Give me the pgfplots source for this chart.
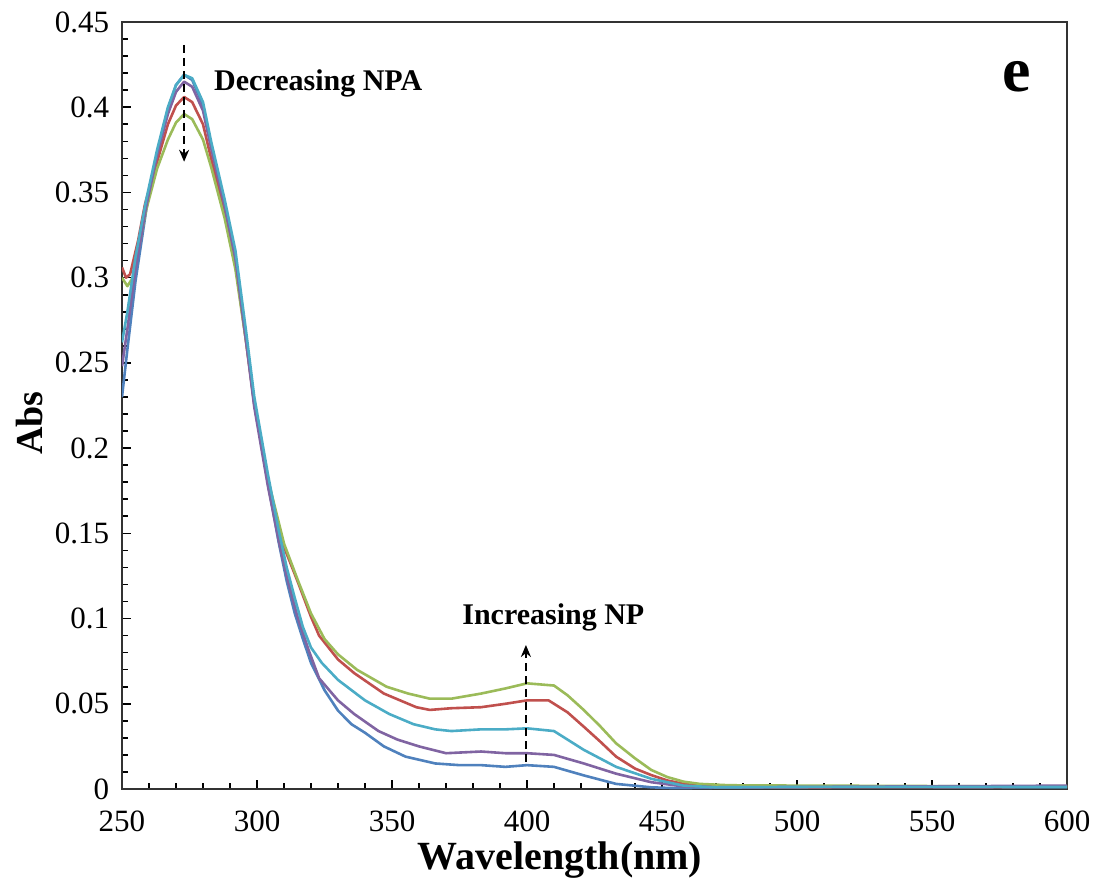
\documentclass[border=0pt]{standalone}
\usepackage{fontspec}
\setmainfont{Liberation Serif}
\usepackage{pgfplots}
\pgfplotsset{compat=1.18}
\usetikzlibrary{arrows.meta}
\definecolor{cBlue}{HTML}{4F81BD}
\definecolor{cRed}{HTML}{C0504D}
\definecolor{cGreen}{HTML}{9BBB59}
\definecolor{cPurple}{HTML}{8064A2}
\definecolor{cCyan}{HTML}{4BACC6}
\begin{document}
\begin{tikzpicture}
\begin{axis}[
  width=472.5pt, height=383.5pt, scale only axis,
  xmin=250, xmax=600, ymin=0, ymax=0.45,
  xtick distance=50, ytick distance=0.05,
  minor x tick num=4, minor y tick num=4,
  tick align=inside, tick pos=left,
  major tick length=4.5pt, minor tick length=3pt,
  every tick/.style={black, line width=0.8pt},
  axis line style={black!80, line width=1pt},
  /pgf/number format/.cd, fixed, precision=2, assume math mode=true,
  /pgfplots/.cd,
  ticklabel style={font=\fontsize{15.5}{15.5}\selectfont, inner sep=1pt},
  xticklabel style={yshift=-9.5pt},
  yticklabel style={xshift=-5.2pt},
  xlabel={\textbf{Wavelength(nm)}},
  ylabel={\textbf{Abs}},
  xlabel style={at={(axis description cs:0.4635,-0.093)}, anchor=center, font=\fontsize{20}{20}\selectfont},
  ylabel style={at={(axis description cs:-0.098,0.477)}, anchor=center, rotate=0, font=\fontsize{19}{19}\selectfont},
  every axis plot/.append style={line width=1.3pt, line join=round},
]
\coordinate (bl) at (rel axis cs:0,0);
\coordinate (tr) at (rel axis cs:1,1);
% blue
\addplot[cBlue] coordinates {
(250,0.230)(252,0.258)(255,0.298)(259,0.340)(263,0.373)(267,0.399)(270,0.413)(273,0.419)(276,0.416)(280,0.401)(283,0.378)(288,0.343)(292,0.312)(296,0.264)(299,0.226)(304,0.180)(308,0.145)(311,0.122)(314,0.103)(317,0.088)(320,0.074)(325,0.058)(330,0.046)(335,0.038)(340,0.033)(347,0.025)(355,0.019)(366,0.015)(375,0.014)(383,0.014)(392,0.013)(400,0.014)(410,0.013)(421,0.008)(433,0.003)(446,0.001)(455,0.0005)(470,0.0008)(500,0.001)(530,0.0012)(560,0.001)(600,0.0012)};
% red
\addplot[cRed] coordinates {
(250,0.306)(251.5,0.300)(253,0.302)(256,0.322)(258.5,0.343)(263,0.368)(267,0.390)(270,0.401)(273,0.406)(276,0.403)(280,0.390)(283,0.370)(288,0.338)(292,0.308)(296,0.262)(299,0.226)(304,0.181)(310,0.142)(315,0.122)(320,0.101)(323,0.090)(330,0.076)(336,0.068)(347,0.056)(359,0.048)(364,0.0464)(372,0.0474)(383,0.048)(392,0.050)(400,0.052)(408,0.052)(415,0.045)(421,0.0366)(427,0.028)(433,0.019)(440,0.012)(446,0.0082)(452,0.005)(458,0.003)(470,0.0012)(500,0.001)(540,0.0012)(580,0.0012)(600,0.0015)};
% green
\addplot[cGreen] coordinates {
(250,0.300)(252,0.295)(254,0.300)(256,0.316)(259,0.340)(263,0.364)(267,0.381)(270,0.391)(273,0.396)(276,0.393)(280,0.381)(283,0.365)(288,0.335)(292,0.305)(296,0.262)(299,0.227)(304,0.182)(310,0.144)(315,0.123)(320,0.103)(325,0.088)(330,0.079)(337,0.070)(348,0.060)(356,0.056)(364,0.053)(372,0.053)(383,0.056)(392,0.059)(400,0.062)(410,0.0607)(415,0.055)(421,0.0464)(427,0.037)(433,0.0268)(440,0.018)(446,0.0112)(452,0.007)(458,0.0043)(464,0.003)(475,0.0022)(500,0.002)(540,0.0018)(580,0.0015)(600,0.0015)};
% purple
\addplot[cPurple] coordinates {
(250,0.248)(252,0.270)(255,0.305)(259,0.342)(263,0.372)(267,0.396)(270,0.409)(273,0.415)(276,0.412)(280,0.398)(283,0.376)(288,0.342)(292,0.311)(296,0.262)(299,0.224)(304,0.178)(308,0.146)(311,0.125)(315,0.101)(319,0.082)(323,0.065)(330,0.052)(336,0.044)(345,0.034)(352,0.029)(360,0.025)(370,0.021)(383,0.022)(392,0.021)(400,0.021)(410,0.020)(421,0.015)(433,0.009)(446,0.004)(458,0.0015)(470,0.001)(500,0.0012)(540,0.0015)(580,0.0018)(600,0.002)};
% cyan
\addplot[cCyan] coordinates {
(250,0.262)(252,0.280)(255,0.312)(259,0.346)(263,0.375)(267,0.400)(270,0.413)(273,0.419)(276,0.417)(280,0.403)(283,0.380)(288,0.346)(292,0.316)(296,0.268)(299,0.230)(304,0.185)(308,0.152)(311,0.130)(314,0.112)(317,0.095)(320,0.083)(324,0.074)(330,0.064)(340,0.052)(349,0.044)(358,0.038)(366,0.035)(372,0.034)(383,0.035)(392,0.035)(400,0.0356)(410,0.034)(421,0.023)(433,0.013)(446,0.006)(458,0.002)(470,0.001)(500,0.0012)(540,0.0013)(580,0.0012)(600,0.0012)};
% annotations
\draw[black, line width=1pt, dash pattern=on 4pt off 2.5pt, -{Stealth[length=6pt,width=5pt]}] (axis cs:273,0.4366) -- (axis cs:273,0.368);
\draw[black, line width=1pt, dash pattern=on 4pt off 2.5pt, -{Stealth[length=6pt,width=5pt]}] (axis cs:399.6,0.0158) -- (axis cs:399.6,0.0845);
\node[anchor=base west, inner sep=0pt, font=\fontsize{15}{15}\selectfont\bfseries] at (axis cs:284,0.4098) {Decreasing NPA};
\node[anchor=base west, inner sep=0pt, font=\fontsize{15}{15}\selectfont\bfseries] at (axis cs:375.9,0.0968) {Increasing NP};
\node[anchor=base, inner sep=0pt, font=\fontsize{32}{32}\selectfont\bfseries] at (axis cs:581.3,0.409) {e};
\end{axis}
\pgfresetboundingbox
\path ([shift={(-61pt,-47.5pt)}]bl) rectangle ([shift={(13.5pt,11pt)}]tr);
\end{tikzpicture}
\end{document}
